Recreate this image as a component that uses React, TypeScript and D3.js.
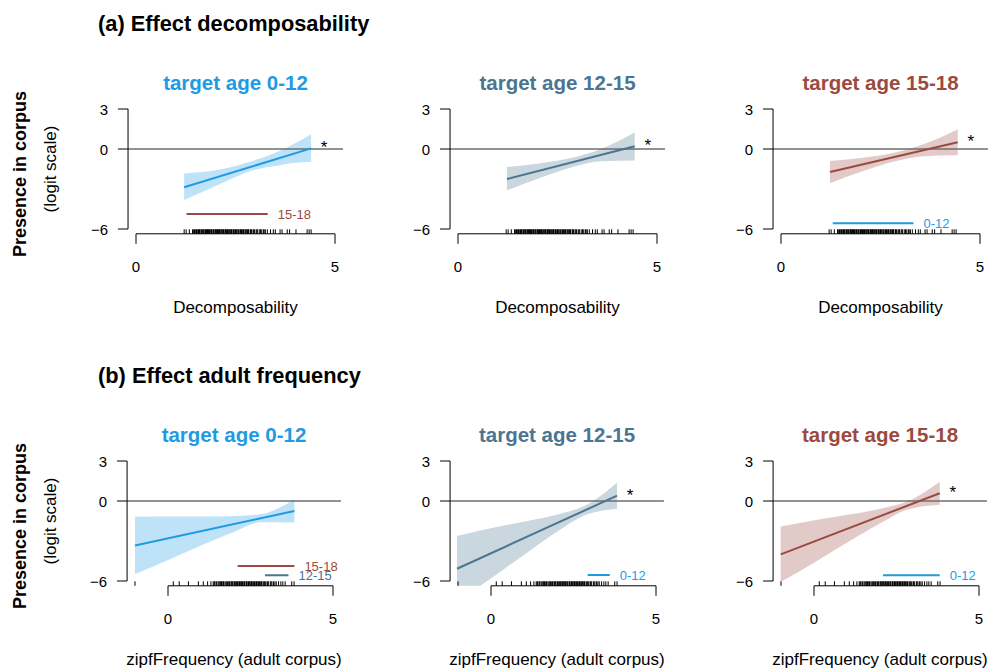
import React from "react";
import * as d3 from "d3";

const FONT = "'Liberation Sans', Arial, Helvetica, sans-serif";

// groups
const groups = ["0-12", "12-15", "15-18"];
const groupColors = ["#1E9BE3", "#4B7590", "#9C4A40"];

const yTicks = [3, 0, -6];
const xTicks = [0, 5];
const rowTitles = ["(a) Effect decomposability", "(b) Effect adult frequency"];
const xTitles = ["Decomposability", "zipfFrequency (adult corpus)"];

// ---- Row (a): decomposability ----
const aLineX = [[1.21, 4.40], [1.23, 4.44], [1.23, 4.44]];
const aLineY = [[-2.87, 0.05], [-2.25, 0.20], [-1.73, 0.50]];
const aBandX = [
  [1.21, 2.11, 2.95, 3.53, 3.95, 4.40],
  [1.23, 2.07, 2.90, 3.58, 4.44],
  [1.23, 2.07, 2.90, 3.58, 4.44],
];
const aBandHi = [
  [-1.83, -1.53, -0.88, -0.25, 0.35, 1.10],
  [-1.35, -1.06, -0.63, -0.01, 1.23],
  [-0.90, -0.65, -0.24, 0.35, 1.46],
];
const aBandLo = [
  [-3.83, -2.63, -1.58, -1.25, -1.05, -0.95],
  [-3.10, -2.16, -1.33, -0.91, -0.86],
  [-2.56, -1.65, -0.90, -0.55, -0.46],
];
const aStar = [true, true, true];
// significance comparison bars
const aSigPanel = [0, 2];
const aSigFrom = [1.27, 1.30];
const aSigTo = [3.31, 3.33];
const aSigY = [-4.88, -5.57];
const aSigGroup = [2, 0];
const rugA = [1.21, 1.26, 1.34, 1.42, 1.45, 1.47, 1.5, 1.52, 1.54, 1.57, 1.59, 1.6, 1.63, 1.65, 1.66, 1.68,
  1.7, 1.71, 1.74, 1.75, 1.77, 1.79, 1.8, 1.82, 1.84, 1.85, 1.88, 1.89, 1.9, 1.93, 1.95, 1.96, 1.99, 2.0,
  2.02, 2.04, 2.05, 2.07, 2.09, 2.1, 2.13, 2.14, 2.16, 2.18, 2.2, 2.21, 2.24, 2.25, 2.27, 2.29, 2.3, 2.33,
  2.34, 2.36, 2.38, 2.4, 2.41, 2.44, 2.45, 2.47, 2.5, 2.51, 2.53, 2.56, 2.57, 2.59, 2.62, 2.63, 2.65, 2.68,
  2.7, 2.71, 2.74, 2.76, 2.77, 2.8, 2.82, 2.83, 2.87, 2.88, 2.9, 2.94, 2.96, 2.98, 3.02, 3.04, 3.06, 3.11,
  3.13, 3.16, 3.2, 3.22, 3.25, 3.3, 3.38, 3.45, 3.5, 3.62, 3.67, 3.8, 3.86, 4.02, 4.3, 4.35, 4.4];

// ---- Row (b): adult frequency ----
const bLineX = [[-1.00, 3.83], [-1.03, 3.82], [-1.01, 3.81]];
const bLineY = [[-3.33, -0.75], [-5.08, 0.40], [-4.00, 0.58]];
const bBandX = [
  [-1.0, 0.06, 1.07, 2.08, 2.79, 3.83],
  [-1.03, 0.06, 1.07, 2.08, 2.79, 3.82],
  [-1.01, 0.06, 1.07, 2.08, 2.79, 3.81],
];
const bBandHi = [
  [-1.18, -1.16, -1.17, -1.13, -1.00, 0.12],
  [-2.63, -2.00, -1.51, -0.97, -0.42, 1.37],
  [-1.92, -1.43, -1.02, -0.54, -0.08, 1.45],
];
const bBandLo = [
  [-5.48, -4.36, -3.27, -2.23, -1.60, -1.62],
  [-7.53, -5.70, -3.91, -2.17, -1.12, -0.58],
  [-6.08, -4.53, -3.02, -1.58, -0.68, -0.29],
];
const bStar = [false, true, true];
const bSigPanel = [0, 0, 1, 2];
const bSigFrom = [2.11, 2.94, 2.93, 2.09];
const bSigTo = [3.83, 3.65, 3.60, 3.81];
const bSigY = [-4.88, -5.57, -5.55, -5.57];
const bSigGroup = [2, 1, 0, 0];
const rugB = [-1.0, 0.16, 0.34, 0.62, 0.92, 1.07, 1.2, 1.3, 1.37, 1.4, 1.42, 1.46, 1.48, 1.52, 1.55, 1.58,
  1.6, 1.62, 1.66, 1.68, 1.7, 1.75, 1.78, 1.8, 1.84, 1.86, 1.88, 1.92, 1.94, 1.96, 2.0, 2.02, 2.04, 2.08,
  2.1, 2.12, 2.15, 2.17, 2.19, 2.22, 2.24, 2.26, 2.3, 2.31, 2.33, 2.37, 2.38, 2.4, 2.44, 2.46, 2.48, 2.51,
  2.53, 2.55, 2.58, 2.6, 2.62, 2.66, 2.68, 2.7, 2.73, 2.75, 2.77, 2.81, 2.83, 2.85, 2.9, 2.92, 2.95, 3.0,
  3.02, 3.04, 3.1, 3.12, 3.15, 3.2, 3.24, 3.28, 3.35, 3.42, 3.48, 3.55, 3.75, 3.82];

const rows = [
  {
    lineX: aLineX, lineY: aLineY, bandX: aBandX, bandHi: aBandHi, bandLo: aBandLo, star: aStar,
    sigPanel: aSigPanel, sigFrom: aSigFrom, sigTo: aSigTo, sigY: aSigY, sigGroup: aSigGroup, rug: rugA,
    xDom: [-0.2, 5.2], x0: 136, x5: 335, colOff: [0, 322, 645], yTop: 109, yBot: 229,
    title: rowTitles[0], xTitle: xTitles[0],
  },
  {
    lineX: bLineX, lineY: bLineY, bandX: bBandX, bandHi: bBandHi, bandLo: bBandLo, star: bStar,
    sigPanel: bSigPanel, sigFrom: bSigFrom, sigTo: bSigTo, sigY: bSigY, sigGroup: bSigGroup, rug: rugB,
    xDom: [-1.24, 5.24], x0: 168, x5: 333, colOff: [0, 323, 646], yTop: 461, yBot: 581,
    title: rowTitles[1], xTitle: xTitles[1],
  },
];

function Panel({ row, ri, ci }: any) {
  const off = row.colOff[ci];
  const x = d3.scaleLinear().domain([0, 5]).range([row.x0 + off, row.x5 + off]);
  const y = d3.scaleLinear().domain([-6, 3]).range([row.yBot, row.yTop]);
  const left = x(row.xDom[0]);
  const right = x(row.xDom[1]);
  const top = y(3.36);
  const bottom = y(-6.36);
  const color = groupColors[ci];
  const clipId = `clip-${ri}-${ci}`;

  const bx: number[] = row.bandX[ci];
  const bandData = bx.map((v, i) => ({ x: v, lo: row.bandLo[ci][i], hi: row.bandHi[ci][i] }));
  const area = d3
    .area<any>()
    .x((d) => x(d.x))
    .y0((d) => y(d.lo))
    .y1((d) => y(d.hi))
    .curve(d3.curveMonotoneX);
  const lx = row.lineX[ci];
  const ly = row.lineY[ci];
  const line = d3.line<number>().x((_, i) => x(lx[i])).y((v) => y(v));
  const cx = (left + right) / 2;

  const sigs = row.sigPanel
    .map((p: number, i: number) => ({ p, i }))
    .filter((s: any) => s.p === ci);

  return (
    <g>
      <defs>
        <clipPath id={clipId}>
          <rect x={left} y={top} width={right - left} height={bottom - top} />
        </clipPath>
      </defs>
      <text x={cx} y={row.yTop - 19} textAnchor="middle" fontWeight="bold" fontSize={20.5} fill={color}>
        target age {groups[ci]}
      </text>
      <g clipPath={`url(#${clipId})`}>
        <path d={area(bandData) || ""} fill={color} fillOpacity={0.29} />
      </g>
      <line x1={left} x2={right} y1={y(0)} y2={y(0)} stroke="#6e6e6e" strokeWidth={1.6} />
      <path d={line(ly) || ""} stroke={color} strokeWidth={2} fill="none" />
      {row.star[ci] && (
        <text x={x(lx[1]) + 13} y={y(ly[1]) + 5} textAnchor="middle" fontSize={17} fill="#000">
          *
        </text>
      )}
      {sigs.map((s: any) => {
        const i = s.i;
        const g = row.sigGroup[i];
        return (
          <g key={i}>
            <line x1={x(row.sigFrom[i])} x2={x(row.sigTo[i])} y1={y(row.sigY[i])} y2={y(row.sigY[i])}
              stroke={groupColors[g]} strokeWidth={2} />
            <text x={x(row.sigTo[i]) + 10} y={y(row.sigY[i]) + 4.5} fontSize={13} fill={groupColors[g]}>
              {groups[g]}
            </text>
          </g>
        );
      })}
      {row.rug.map((v: number, i: number) => (
        <line key={i} x1={x(v)} x2={x(v)} y1={bottom} y2={bottom - 4.5} stroke="#000" strokeWidth={1} />
      ))}
      <line x1={left} x2={left} y1={y(3)} y2={y(-6)} stroke="#000" strokeWidth={1} />
      {yTicks.map((t) => (
        <g key={t}>
          <line x1={left - 10} x2={left} y1={y(t)} y2={y(t)} stroke="#000" strokeWidth={1} />
          <text x={left - 20} y={y(t) + 5.5} textAnchor="end" fontSize={15}>
            {t < 0 ? `\u2212${Math.abs(t)}` : t}
          </text>
        </g>
      ))}
      <line x1={x(0)} x2={x(5)} y1={bottom} y2={bottom} stroke="#000" strokeWidth={1} />
      {xTicks.map((t) => (
        <g key={t}>
          <line x1={x(t)} x2={x(t)} y1={bottom} y2={bottom + 10} stroke="#000" strokeWidth={1} />
          <text x={x(t)} y={bottom + 38.5} textAnchor="middle" fontSize={15}>
            {t}
          </text>
        </g>
      ))}
      <text x={cx} y={bottom + 79} textAnchor="middle" fontSize={17}>
        {row.xTitle}
      </text>
    </g>
  );
}

export default function App() {
  return (
    <svg width={990} height={670} style={{ display: "block", position: "absolute", left: 0, top: 0 }}
      fontFamily={FONT}>
      <rect width={990} height={670} fill="#fff" />
      {rows.map((row, ri) => {
        const yMid = (row.yTop + row.yBot) / 2;
        return (
          <g key={ri}>
            <text x={98} y={row.yTop - 78} fontSize={21.8} fontWeight="bold">
              {row.title}
            </text>
            <text transform={`translate(26,${yMid + 5}) rotate(-90)`} textAnchor="middle" fontSize={18}
              fontWeight="bold">
              Presence in corpus
            </text>
            <text transform={`translate(56,${yMid}) rotate(-90)`} textAnchor="middle" fontSize={17}>
              (logit scale)
            </text>
            {[0, 1, 2].map((ci) => (
              <Panel key={ci} row={row} ri={ri} ci={ci} />
            ))}
          </g>
        );
      })}
    </svg>
  );
}
